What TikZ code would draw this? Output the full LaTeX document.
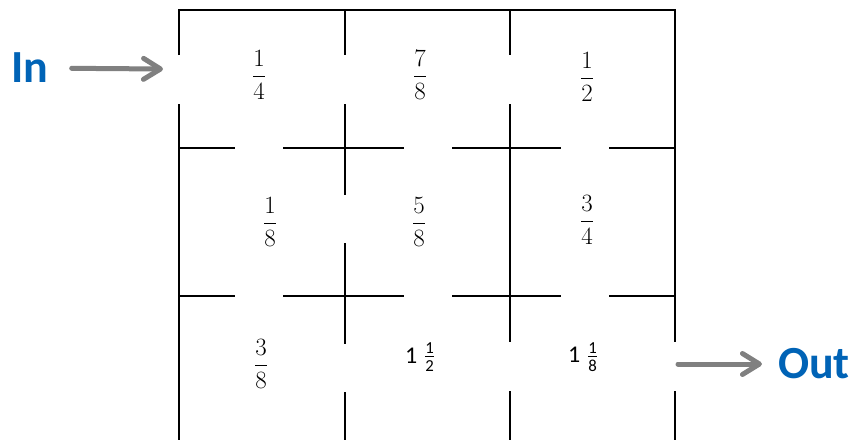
\documentclass[tikz,border=0pt]{standalone}
\usepackage{amsmath}
\usepackage{fontspec}
\newfontfamily\labelfont{Carlito}
\usetikzlibrary{arrows.meta}
\definecolor{labelblue}{RGB}{0,99,182}
\definecolor{arrowgray}{RGB}{128,128,128}
\newcommand{\cdig}[1]{\text{\labelfont #1}}

\begin{document}
\begin{tikzpicture}[
  x=1pt,y=-1pt,
  wall/.style={line width=2pt},
  cellnum/.style={inner sep=0pt,font=\fontsize{24}{28}\selectfont},
  endlabel/.style={inner sep=0pt,text=labelblue,font=\labelfont\bfseries\fontsize{46}{50}\selectfont},
  flow/.style={draw=arrowgray,line width=5pt,line cap=round,-{Straight Barb[length=17pt,width=21pt,round]}}
]
  \useasboundingbox (0,0) rectangle (855,440);

  % outer walls
  \draw[wall] (179,55) -- (179,10) -- (675,10) -- (675,342);
  \draw[wall] (179,104) -- (179,440);
  \draw[wall] (675,391) -- (675,440);
  % inner walls
  \draw[wall] (345,10) -- (345,55) (345,104) -- (345,195) (345,243) -- (345,344) (345,392) -- (345,440);
  \draw[wall] (510,10) -- (510,55) (510,104) -- (510,342) (510,391) -- (510,440);
  \foreach \y in {148,296}
    \draw[wall] (179,\y) -- (235,\y) (283,\y) -- (404,\y) (452,\y) -- (561,\y) (609,\y) -- (675,\y);

  \node[cellnum] (f11) at (259,75) {$\dfrac{1}{4}$};
  \node[cellnum] (f12) at (420,75) {$\dfrac{7}{8}$};
  \node[cellnum] (f13) at (587,77) {$\dfrac{1}{2}$};
  \node[cellnum] (f21) at (270,222) {$\dfrac{1}{8}$};
  \node[cellnum] (f22) at (419,222) {$\dfrac{5}{8}$};
  \node[cellnum] (f23) at (587,220) {$\dfrac{3}{4}$};
  \node[cellnum] (f31) at (261,364) {$\dfrac{3}{8}$};
  \node[cellnum] (f32) at (420,357) {$\cdig{1}\;\tfrac{\cdig{1}}{\cdig{2}}$};
  \node[cellnum] (f33) at (583,357) {$\cdig{1}\;\tfrac{\cdig{1}}{\cdig{8}}$};

  \node[endlabel] (inlbl) at (30,68) {In};
  \node[endlabel] (outlbl) at (814,364) {Out};
  \coordinate (entry) at (163,69);
  \coordinate (exit) at (678,364);

  \draw[flow,shorten <=23pt] (inlbl) -- (entry);
  \draw[flow,shorten >=16pt] (exit) -- (outlbl);
\end{tikzpicture}
\end{document}
